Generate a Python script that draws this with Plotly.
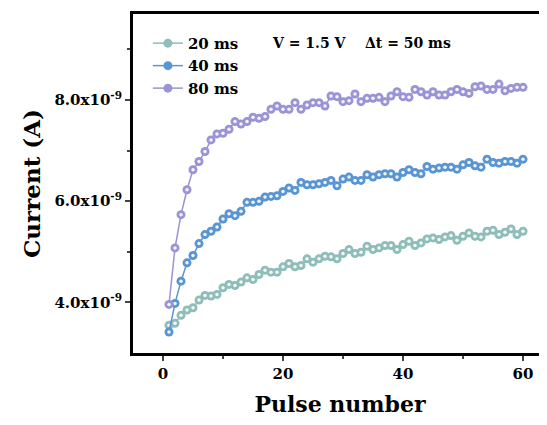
import plotly.graph_objects as go

pulse = list(range(1, 61))

current_20ms = [3.547, 3.586, 3.744, 3.849, 3.895, 4.046, 4.138, 4.125, 4.158, 4.289,
                4.355, 4.335, 4.401, 4.486, 4.453, 4.552, 4.637, 4.598, 4.598, 4.703,
                4.769, 4.703, 4.729, 4.861, 4.795, 4.861, 4.913, 4.900, 4.861, 4.966,
                5.044, 4.966, 4.992, 5.110, 5.044, 5.077, 5.123, 5.123, 5.044, 5.143,
                5.209, 5.123, 5.176, 5.255, 5.274, 5.241, 5.294, 5.320, 5.228, 5.307,
                5.373, 5.307, 5.294, 5.406, 5.425, 5.340, 5.386, 5.452, 5.340, 5.406]

current_40ms = [3.415, 3.980, 4.420, 4.782, 4.926, 5.163, 5.340, 5.406, 5.491, 5.649,
                5.754, 5.714, 5.800, 5.977, 5.977, 5.997, 6.082, 6.095, 6.108, 6.194,
                6.260, 6.214, 6.371, 6.325, 6.325, 6.345, 6.371, 6.411, 6.305, 6.437,
                6.476, 6.411, 6.411, 6.522, 6.476, 6.522, 6.542, 6.542, 6.476, 6.568,
                6.621, 6.568, 6.542, 6.686, 6.634, 6.654, 6.673, 6.673, 6.634, 6.719,
                6.765, 6.700, 6.673, 6.831, 6.765, 6.752, 6.785, 6.785, 6.752, 6.831]

current_80ms = [3.961, 5.077, 5.734, 6.227, 6.621, 6.785, 6.982, 7.212, 7.330, 7.343,
                7.422, 7.573, 7.527, 7.573, 7.659, 7.639, 7.672, 7.816, 7.882, 7.816,
                7.816, 7.948, 7.816, 7.902, 7.948, 7.948, 7.882, 8.079, 8.066, 7.967,
                7.987, 8.118, 7.967, 8.033, 8.033, 8.053, 7.967, 8.079, 8.164, 8.066,
                8.053, 8.210, 8.164, 8.099, 8.164, 8.099, 8.099, 8.164, 8.210, 8.164,
                8.131, 8.263, 8.276, 8.210, 8.210, 8.315, 8.184, 8.230, 8.250, 8.250]

series_names = ["20 ms", "40 ms", "80 ms"]
series_colors = ["#8fbdb9", "#5995d3", "#9a93d6"]

y_tick_vals = [4e-9, 6e-9, 8e-9]
y_tick_text = ["4.0x10<sup>-9</sup>", "6.0x10<sup>-9</sup>", "8.0x10<sup>-9</sup>"]
x_tick_vals = [0, 20, 40, 60]

FONT = "DejaVu Serif"

fig = go.Figure()
for name, vals, col in zip(series_names, [current_20ms, current_40ms, current_80ms], series_colors):
    yv = [v * 1e-9 for v in vals]
    fig.add_trace(go.Scatter(
        x=pulse, y=yv, name=name, mode="lines+markers", legendgroup=name,
        line=dict(color=col, width=1.5),
        marker=dict(symbol="circle", size=9, color=col, line=dict(width=0)),
    ))
    # small white highlight on every bead
    fig.add_trace(go.Scatter(
        x=pulse, y=yv, name=name, mode="markers", legendgroup=name, showlegend=False,
        hoverinfo="skip",
        marker=dict(symbol="circle", size=3.5, color="rgba(255,255,255,0.9)", line=dict(width=0)),
    ))

fig.add_annotation(text="<b>V = 1.5 V&nbsp;&nbsp;&nbsp;&nbsp;\u0394t = 50 ms</b>", xref="paper", yref="paper",
                   x=0.553, y=0.914, showarrow=False, xanchor="center", yanchor="middle",
                   font=dict(family=FONT, size=14, color="black"))

# the page body adds an 8 px offset, so the figure is sized/margined to compensate
fig.update_layout(
    width=539, height=409,
    margin=dict(l=125, r=0, t=6, b=64, autoexpand=False),
    paper_bgcolor="white", plot_bgcolor="white",
    font=dict(family=FONT, color="black"),
    showlegend=True,
    legend=dict(x=0.036, y=0.962, xanchor="left", yanchor="top",
                font=dict(family=FONT, size=15, color="black", weight="bold"),
                bgcolor="rgba(0,0,0,0)", tracegroupgap=0, itemwidth=30),
    xaxis=dict(range=[-5, 64], tickvals=x_tick_vals, ticks="outside", ticklen=5, tickwidth=2,
               showline=True, linewidth=3, linecolor="black", mirror=True, showgrid=False,
               zeroline=False, automargin=False,
               minor=dict(tickvals=[10, 30, 50], ticks="outside", ticklen=3, tickwidth=1.5, showgrid=False),
               tickfont=dict(family=FONT, size=15, weight="bold"),
               title=dict(text="<b>Pulse number</b>", font=dict(family=FONT, size=22), standoff=19)),
    yaxis=dict(range=[3.0e-9, 9.7e-9], tickvals=y_tick_vals, ticktext=y_tick_text,
               ticks="outside", ticklen=5, tickwidth=2,
               showline=True, linewidth=3, linecolor="black", mirror=False, showgrid=False,
               zeroline=False, automargin=False,
               minor=dict(tickvals=[5e-9, 7e-9, 9e-9], ticks="outside", ticklen=3, tickwidth=1.5, showgrid=False),
               tickfont=dict(family=FONT, size=15, weight="bold"),
               title=dict(text="<b>Current (A)</b>", font=dict(family=FONT, size=23), standoff=8)),
)

fig.write_html("out.html")
